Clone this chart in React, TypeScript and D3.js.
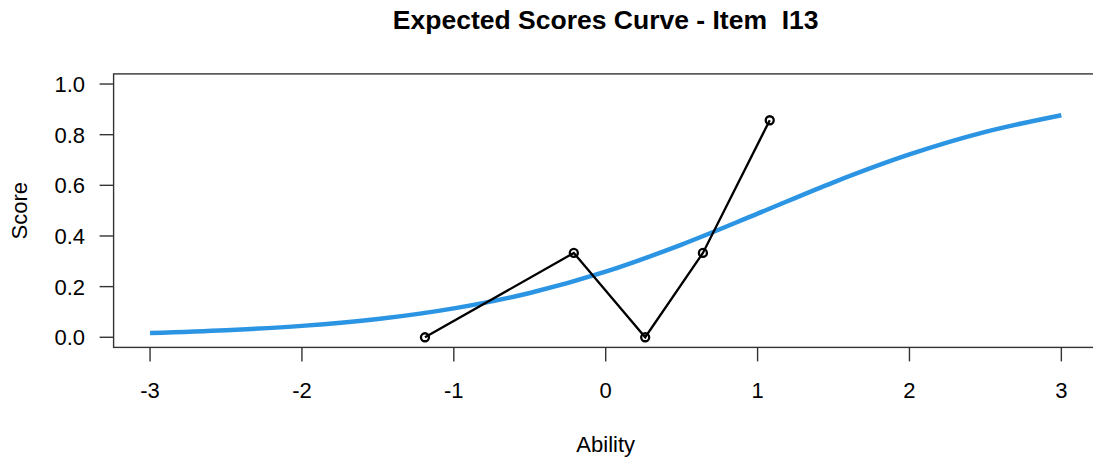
import React from 'react';
import * as d3 from 'd3';

// Expected score curve at half-unit steps
const abilityGrid = [-3, -2.5, -2, -1.5, -1, -0.5, 0, 0.5, 1, 1.5, 2, 2.5, 3];
const expectedScore = [0.017, 0.028, 0.045, 0.072, 0.114, 0.175, 0.259, 0.366, 0.488, 0.612, 0.722, 0.811, 0.877];

// Observed group means
const groupAbility = [-1.19, -0.21, 0.26, 0.64, 1.08];
const observedScore = [0, 0.333, 0, 0.333, 0.857];

const xTicks = [-3, -2, -1, 0, 1, 2, 3];
const yTicks = [0, 0.2, 0.4, 0.6, 0.8, 1.0];

const title = 'Expected Scores Curve - Item  I13';
const xLabel = 'Ability';
const yLabel = 'Score';

const width = 1093;
const height = 461;
const font = '"Liberation Sans", Arial, sans-serif';

const App: React.FC = () => {
  // R-style 4% padding around the data range
  const x = d3.scaleLinear().domain([-3.24, 3.24]).range([113.6, 1097.8]);
  const y = d3.scaleLinear().domain([-0.04, 1.04]).range([347.4, 73.9]);

  const curve = d3.line<number>()
    .x((_, i) => x(abilityGrid[i]))
    .y(d => y(d))
    .curve(d3.curveMonotoneX);

  const observed = d3.line<number>()
    .x((_, i) => x(groupAbility[i]))
    .y(d => y(d));

  const [x0, x1] = x.range();
  const [y0, y1] = y.range();

  return (
    <svg
      width={width}
      height={height}
      style={{ position: 'absolute', left: 0, top: 0, background: '#fff' }}
      fontFamily={font}
    >
      <rect x={0} y={0} width={width} height={height} fill="#fff" />

      <text
        x={(x0 + x1) / 2}
        y={29}
        textAnchor="middle"
        fontSize={26.5}
        fontWeight="bold"
        fill="#000"
        style={{ whiteSpace: 'pre' }}
      >
        {title}
      </text>

      {/* plot box */}
      <rect x={x0} y={y1} width={x1 - x0} height={y0 - y1} fill="none" stroke="#333" strokeWidth={1.4} />

      {/* x axis */}
      {xTicks.map(t => (
        <g key={'x' + t}>
          <line x1={x(t)} x2={x(t)} y1={y0} y2={y0 + 14} stroke="#333" strokeWidth={1.4} />
          <text x={x(t)} y={398} textAnchor="middle" fontSize={22} fill="#000">{t}</text>
        </g>
      ))}

      {/* y axis */}
      {yTicks.map(t => (
        <g key={'y' + t}>
          <line x1={x0 - 14} x2={x0} y1={y(t)} y2={y(t)} stroke="#333" strokeWidth={1.4} />
          <text x={85} y={y(t)} dy="0.36em" textAnchor="end" fontSize={22} fill="#000">{t.toFixed(1)}</text>
        </g>
      ))}

      <text x={(x0 + x1) / 2} y={452} textAnchor="middle" fontSize={22} fill="#000">{xLabel}</text>
      <text
        transform={`translate(27, ${(y0 + y1) / 2}) rotate(-90)`}
        textAnchor="middle"
        fontSize={22}
        fill="#000"
      >
        {yLabel}
      </text>

      <path d={curve(expectedScore) || ''} fill="none" stroke="#2B95E4" strokeWidth={4.5} />

      <path d={observed(observedScore) || ''} fill="none" stroke="#000" strokeWidth={2.3} />
      {observedScore.map((v, i) => (
        <circle key={'p' + i} cx={x(groupAbility[i])} cy={y(v)} r={4} fill="none" stroke="#000" strokeWidth={2.3} />
      ))}
    </svg>
  );
};

export default App;
